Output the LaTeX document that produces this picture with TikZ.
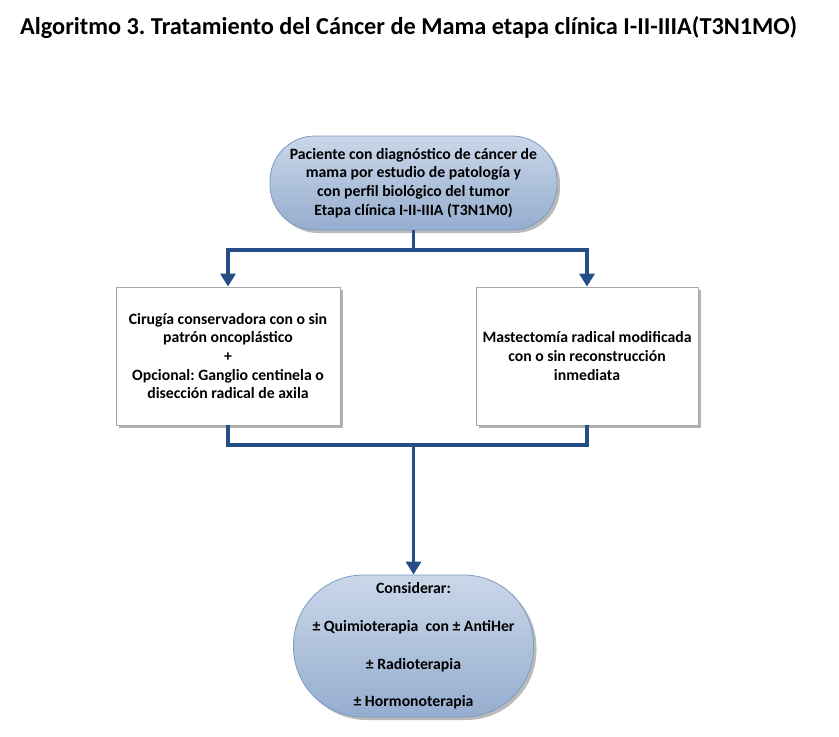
\documentclass[tikz,border=0pt]{standalone}
\usepackage{fontspec}
\setmainfont{Carlito}
\frenchspacing
\usetikzlibrary{arrows.meta,shadows,calc}
\definecolor{conncol}{HTML}{254E87}
\definecolor{topfill}{HTML}{CAD7E9}
\definecolor{botfill}{HTML}{95ADCF}
\definecolor{edgecol}{HTML}{7E9AC2}
\begin{document}
\begin{tikzpicture}[x=1bp,y=-1bp,
  txt/.style={font=\bfseries\fontsize{15.8}{18.7}\selectfont, align=center, text=black},
  term/.style={txt, draw=edgecol, line width=0.8bp, top color=topfill, bottom color=botfill,
    drop shadow={shadow xshift=3bp, shadow yshift=-3bp, opacity=0.45, fill=black!60}},
  procbox/.style={txt, draw=black!35, line width=0.8bp, fill=white,
    drop shadow={shadow xshift=3bp, shadow yshift=-3bp, opacity=0.55, fill=black!55}},
  conn/.style={draw=conncol, line width=3.5bp},
  arr/.style={conn, -{Triangle[length=13bp,width=15bp]}}
]
\useasboundingbox (0,0) rectangle (839,737);
\node[anchor=base west, font=\bfseries\fontsize{24.4}{28}\selectfont, inner sep=0pt] (title) at (20,35)
  {Algoritmo 3. Tratamiento del Cáncer de Mama etapa clínica I-II-IIIA(T3N1MO)};

\node[term, rounded corners=45bp, minimum width=287bp, minimum height=94bp, inner sep=0pt] (top) at (413.5,183)
  {Paciente con diagnóstico de cáncer de\\mama por estudio de patología y\\con perfil biológico del tumor\\Etapa clínica I-II-IIIA (T3N1M0)};

\node[procbox, minimum width=224bp, minimum height=138bp, inner sep=0pt] (left) at (228,356)
  {Cirugía conservadora con o sin\\patrón oncoplástico\\+\\Opcional: Ganglio centinela o\\disección radical de axila};

\node[procbox, minimum width=222bp, minimum height=138bp, inner sep=0pt] (right) at (587,356)
  {Mastectomía radical modificada\\con o sin reconstrucción\\inmediata};

\node[term, rounded corners=70bp, minimum width=240bp, minimum height=142bp, inner sep=0pt] (bot) at (413.5,646)
  {Considerar:\\[19bp]± Quimioterapia\ \ con ± AntiHer\\[19bp]± Radioterapia\\[19bp]± Hormonoterapia};

\coordinate (j1) at (413.5,250);
\coordinate (j2) at (413.5,445);

\draw[conn] (top.south) -- (j1);
\draw[arr] (j1) -| (left.north);
\draw[arr] (j1) -| (right.north);
\draw[conn] (left.south) |- (j2) -| (right.south);
\draw[arr] (j2) -- (bot.north);
\end{tikzpicture}
\end{document}
